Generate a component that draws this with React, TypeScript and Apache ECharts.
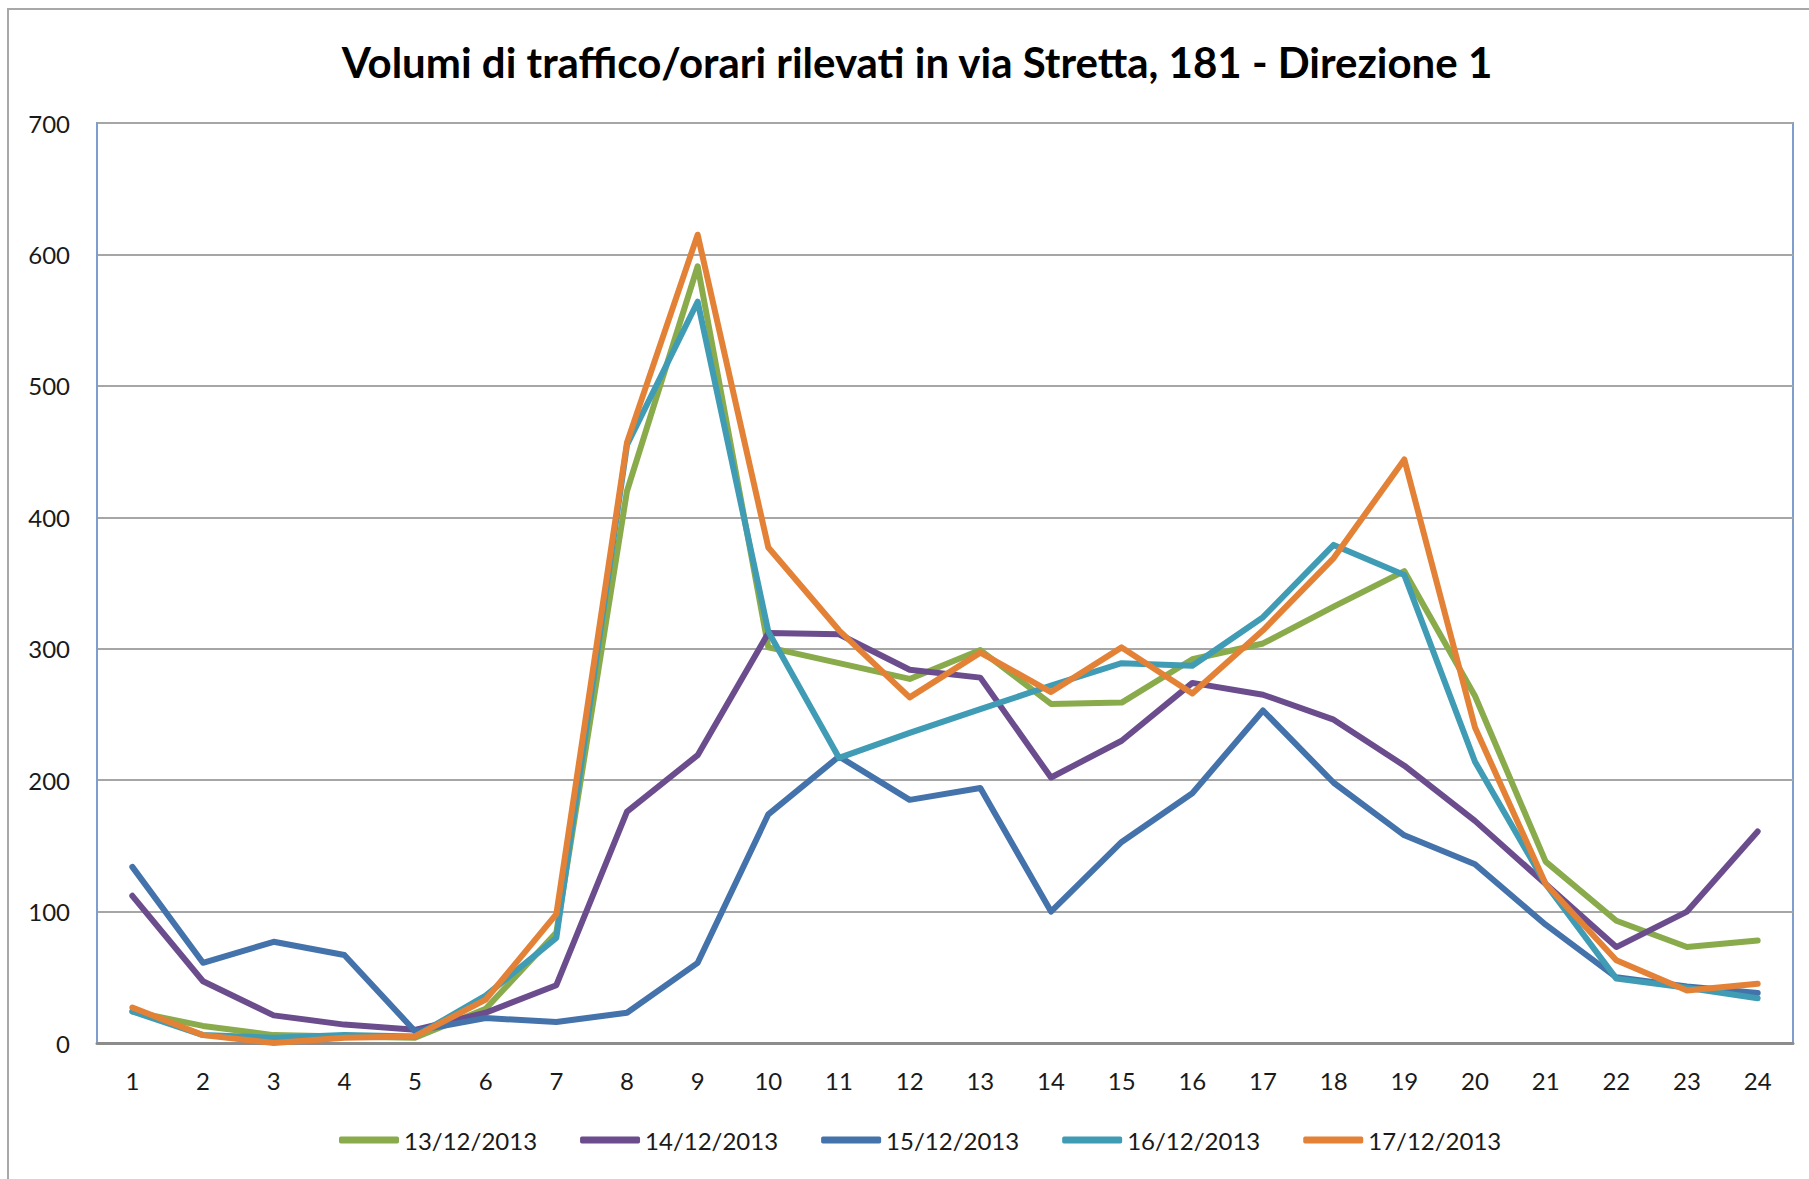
import React, { useEffect, useRef } from "react";
import * as echarts from "echarts";

const TITLE = "Volumi di traffico/orari rilevati in via Stretta, 181 - Direzione 1";
const hours = ["1","2","3","4","5","6","7","8","9","10","11","12","13","14","15","16","17","18","19","20","21","22","23","24"];
const seriesNames = ["13/12/2013", "14/12/2013", "15/12/2013", "16/12/2013", "17/12/2013"];
const d13 = [24, 13, 6, 5, 4, 26, 84, 420, 591, 301, 289, 277, 299, 258, 259, 292, 304, 332, 359, 264, 138, 93, 73, 78];
const d14 = [112, 47, 21, 14, 10, 23, 44, 176, 219, 312, 311, 284, 278, 202, 230, 274, 265, 246, 211, 169, 121, 73, 100, 161];
const d15 = [134, 61, 77, 67, 9, 19, 16, 23, 61, 174, 218, 185, 194, 100, 153, 190, 253, 198, 158, 136, 90, 50, 43, 38];
const d16 = [24, 6, 4, 6, 5, 36, 80, 455, 564, 313, 217, 236, 254, 272, 289, 287, 324, 379, 356, 214, 121, 49, 42, 34];
const d17 = [27, 6, 0, 4, 5, 33, 98, 457, 615, 377, 314, 263, 297, 267, 301, 266, 314, 369, 444, 240, 121, 63, 40, 45];
const seriesData = [d13, d14, d15, d16, d17];
const colors = ["#8AAB4C", "#6B4D8E", "#4472AB", "#3F9CB4", "#E38236"];

export default function App() {
  const ref = useRef<HTMLDivElement>(null);
  useEffect(() => {
    document.body.style.margin = "0";
    const chart = echarts.init(ref.current!, null, { renderer: "svg" });
    chart.setOption({
      animation: false,
      backgroundColor: "#ffffff",
      textStyle: { fontFamily: "Lato" },
      graphic: [
        {
          type: "rect",
          shape: { x: 8, y: 9, width: 2000, height: 1400 },
          style: { fill: "none", stroke: "#A8A8A8", lineWidth: 2 },
          silent: true,
        },
        {
          type: "text",
          x: 917,
          y: 62,
          style: {
            text: TITLE,
            font: "bold 42px Lato",
            fill: "#000000",
            textAlign: "center",
            textVerticalAlign: "middle",
          },
        },
      ],
      grid: {
        left: 97,
        top: 123,
        right: 16,
        bottom: 136,
        show: true,
        borderColor: "#7E9ED0",
        borderWidth: 2,
        backgroundColor: "transparent",
      },
      legend: {
        left: 334,
        top: 1123,
        icon: "roundRect",
        itemWidth: 60,
        itemHeight: 7,
        itemGap: 43,
        textStyle: { fontSize: 24, color: "#1a1a1a", fontFamily: "Lato" },
        data: seriesNames,
      },
      xAxis: {
        type: "category",
        data: hours,
        boundaryGap: true,
        axisTick: { show: false },
        axisLine: { show: true, lineStyle: { color: "#8C8C8C", width: 3 } },
        axisLabel: { fontSize: 24, color: "#1a1a1a", margin: 25, fontFamily: "Lato" },
        splitLine: { show: false },
      },
      yAxis: {
        type: "value",
        min: 0,
        max: 700,
        interval: 100,
        axisLine: { show: true, lineStyle: { color: "#7E9ED0", width: 2 } },
        axisTick: { show: false },
        axisLabel: { fontSize: 24, color: "#1a1a1a", margin: 27, fontFamily: "Lato" },
        splitLine: { show: true, lineStyle: { color: "#A6A6A6", width: 2 } },
      },
      series: seriesNames.map((name, i) => ({
        name,
        type: "line",
        data: seriesData[i],
        symbol: "none",
        showSymbol: false,
        color: colors[i],
        lineStyle: { width: 6, color: colors[i], join: "round", cap: "round" },
        z: 2 + i,
      })),
    });
    return () => chart.dispose();
  }, []);
  return <div ref={ref} style={{ width: 1809, height: 1179 }} />;
}
